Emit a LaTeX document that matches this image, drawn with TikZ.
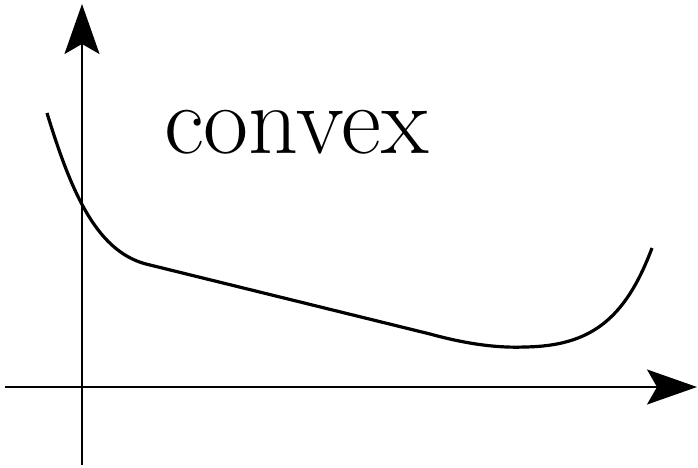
\documentclass[tikz,border=0pt]{standalone}
\usepackage{tikz}
\usetikzlibrary{arrows.meta}
\begin{document}
\begin{tikzpicture}[x=1bp,y=-1bp,inner sep=0pt,outer sep=0pt]
  \useasboundingbox (0,0) rectangle (698,468);
  \coordinate (xstart) at (5,387);
  \coordinate (xend) at (697,387);
  \coordinate (ystart) at (82,465);
  \coordinate (yend) at (82,4);
  \draw[line width=2bp,-{Stealth[length=50bp,width=35bp,inset=10bp]}] (xstart) -- (xend);
  \draw[line width=2bp,-{Stealth[length=50bp,width=35bp,inset=10bp]}] (ystart) -- (yend);
  \draw[line width=3.2bp] (47,113) .. controls (72,195) and (98,254) .. (150,265) -- (430,334) .. controls (470,345) and (500,348) .. (525,347) .. controls (590,346) and (625,320) .. (652,248);
  \node[anchor=base] (convexlabel) at (296.5,154) {{\fontsize{98bp}{112bp}\selectfont convex}};
\end{tikzpicture}
\end{document}
